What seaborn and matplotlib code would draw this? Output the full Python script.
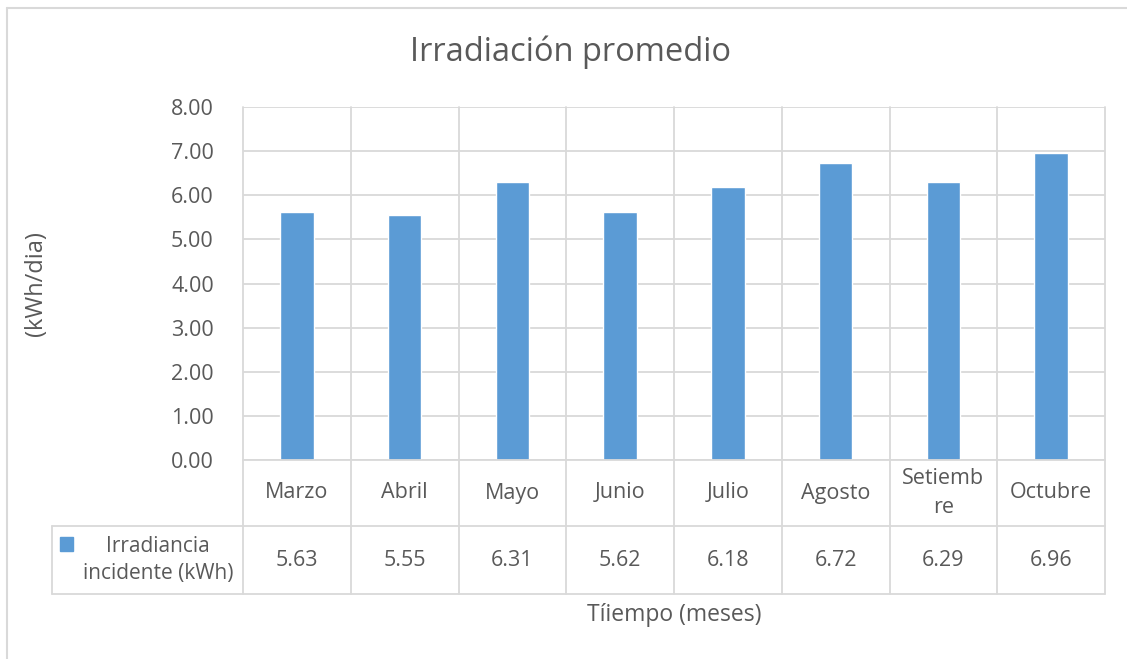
import matplotlib
matplotlib.use("Agg")
import matplotlib.pyplot as plt
from matplotlib.lines import Line2D
from matplotlib.patches import Rectangle
import numpy as np
import pandas as pd
import seaborn as sns

# --- data ---
meses = ["Marzo", "Abril", "Mayo", "Junio", "Julio", "Agosto", "Setiemb\nre", "Octubre"]
irradiancia = [5.63, 5.55, 6.31, 5.62, 6.18, 6.72, 6.29, 6.96]
y_ticks = [0, 1, 2, 3, 4, 5, 6, 7, 8]
serie = "Irradiancia\nincidente (kWh)"

BAR = "#5B9BD5"
GRID = "#D9D9D9"
TXT = "#595959"

sns.set_theme(style="white")
plt.rcParams['font.family'] = ['Open Sans', 'DejaVu Sans']

df = pd.DataFrame({"mes": meses, "valor": irradiancia})

W, H = 1127, 659
fig = plt.figure(figsize=(W / 100, H / 100), dpi=100)

# plot area in pixels
x0, x1, y0, y1 = 243, 1105, 107, 460
ax = fig.add_axes([x0 / W, 1 - y1 / H, (x1 - x0) / W, (y1 - y0) / H])

sns.barplot(data=df, x="mes", y="valor", color=BAR, width=0.31, saturation=1, ax=ax)
n = len(meses)
ax.set_xlim(-0.5, n - 0.5)
ax.set_ylim(0, 8)
ax.set_yticks(y_ticks)
ax.set_yticklabels([f"{v:.2f}" for v in y_ticks], color=TXT, fontsize=15.5)
ax.tick_params(axis="y", length=0, pad=21)
ax.set_xticks([])
ax.set_xlabel("")
ax.set_ylabel("")
for s in ax.spines.values():
    s.set_visible(False)
ax.set_axisbelow(True)
for v in y_ticks:
    ax.axhline(v, color=GRID, lw=1.3, zorder=0)

# table rows expressed in axes fraction below the plot
ph = (y1 - y0)
r1 = -(526 - y1) / ph
r2 = -(594 - y1) / ph
px_per_cat = (x1 - x0) / n
legend_left = -0.5 - (x0 - 52) / px_per_cat
tr = ax.get_xaxis_transform()

bounds = np.arange(n + 1) - 0.5
for b in bounds:
    ax.plot([b, b], [1, r2], transform=tr, color=GRID, lw=1.3, clip_on=False, zorder=0)
ax.plot([-0.5, n - 0.5], [0, 0], transform=tr, color=GRID, lw=1.3, clip_on=False)
ax.plot([legend_left, n - 0.5], [r1, r1], transform=tr, color=GRID, lw=1.3, clip_on=False)
ax.plot([legend_left, n - 0.5], [r2, r2], transform=tr, color=GRID, lw=1.3, clip_on=False)
ax.plot([legend_left, legend_left], [r1, r2], transform=tr, color=GRID, lw=1.3, clip_on=False)

for i, (m, v) in enumerate(zip(meses, irradiancia)):
    ax.text(i, r1 / 2, m, transform=tr, ha="center", va="center", color=TXT,
            fontsize=15.5, linespacing=1.45)
    ax.text(i, (r1 + r2) / 2, f"{v:.2f}", transform=tr, ha="center", va="center",
            color=TXT, fontsize=15.5)

# legend key in the table
key_x = legend_left + 8 / px_per_cat
ax.add_patch(Rectangle((key_x, r1 - 11 / ph), 13 / px_per_cat, -14 / ph, transform=tr,
                       color=BAR, clip_on=False))
ax.text(legend_left + 106 / px_per_cat, (r1 + r2) / 2, serie, transform=tr,
        ha="center", va="center", color=TXT, fontsize=15, linespacing=1.35)

# titles
fig.text(571 / W, 1 - 52 / H, "Irradiación promedio", ha="center", va="center",
         color=TXT, fontsize=23.5)
fig.text(674 / W, 1 - 615 / H, "Tíiempo (meses)", ha="center", va="center",
         color=TXT, fontsize=16.5)
fig.text(36 / W, 1 - 284 / H, "(kWh/dia)", ha="center", va="center", rotation=90,
         color=TXT, fontsize=17)

# chart border (left and top)
fig.add_artist(Line2D([7 / W, 7 / W], [0, 1 - 7.5 / H], color=GRID, lw=1.5))
fig.add_artist(Line2D([7 / W, 1], [1 - 7.5 / H, 1 - 7.5 / H], color=GRID, lw=1.5))

fig.savefig("out.png", dpi=100, facecolor="white")
